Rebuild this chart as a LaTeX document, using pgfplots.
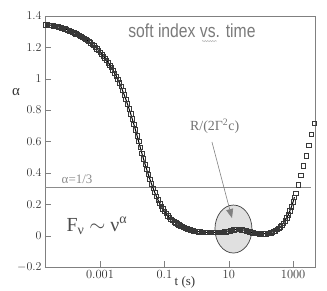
\documentclass[border=0pt]{standalone}
\usepackage{pgfplots}
\usepackage{pgfplotstable}
\pgfplotsset{compat=1.18}
\usepackage{fontspec}
\newfontfamily\tnr{Liberation Serif}
\newfontfamily\arialn[FakeStretch=0.83]{Liberation Sans}
\usetikzlibrary{arrows.meta,decorations.pathmorphing}
\pgfplotstableread{
u a
-4.70 1.345
-4.65 1.344
-4.60 1.343
-4.55 1.342
-4.50 1.340
-4.45 1.338
-4.40 1.336
-4.35 1.334
-4.30 1.331
-4.25 1.328
-4.20 1.325
-4.15 1.322
-4.10 1.318
-4.05 1.314
-4.00 1.310
-3.95 1.306
-3.90 1.302
-3.85 1.298
-3.80 1.293
-3.75 1.288
-3.70 1.283
-3.65 1.278
-3.60 1.272
-3.55 1.266
-3.50 1.260
-3.45 1.253
-3.40 1.246
-3.35 1.238
-3.30 1.230
-3.25 1.221
-3.20 1.212
-3.15 1.202
-3.10 1.192
-3.05 1.181
-3.00 1.170
-2.95 1.158
-2.90 1.145
-2.85 1.132
-2.80 1.118
-2.75 1.103
-2.70 1.088
-2.65 1.072
-2.60 1.055
-2.55 1.037
-2.50 1.018
-2.45 0.997
-2.40 0.975
-2.35 0.951
-2.30 0.925
-2.25 0.898
-2.20 0.870
-2.15 0.840
-2.10 0.810
-2.05 0.778
-2.00 0.745
-1.95 0.710
-1.90 0.675
-1.85 0.638
-1.80 0.600
-1.75 0.562
-1.70 0.525
-1.65 0.490
-1.60 0.455
-1.55 0.422
-1.50 0.390
-1.45 0.359
-1.40 0.330
-1.35 0.302
-1.30 0.275
-1.25 0.251
-1.20 0.228
-1.15 0.207
-1.10 0.188
-1.05 0.171
-1.00 0.155
-0.95 0.141
-0.90 0.128
-0.85 0.117
-0.80 0.106
-0.75 0.097
-0.70 0.089
-0.65 0.082
-0.60 0.075
-0.55 0.069
-0.50 0.063
-0.45 0.058
-0.40 0.053
-0.35 0.049
-0.30 0.045
-0.25 0.041
-0.20 0.038
-0.15 0.035
-0.10 0.032
-0.05 0.030
0.00 0.028
0.05 0.026
0.10 0.025
0.15 0.023
0.20 0.022
0.25 0.021
0.30 0.021
0.35 0.020
0.40 0.020
0.45 0.020
0.50 0.020
0.55 0.020
0.60 0.020
0.65 0.020
0.70 0.021
0.75 0.022
0.80 0.023
0.85 0.024
0.90 0.026
0.95 0.028
1.00 0.030
1.05 0.032
1.10 0.035
1.15 0.037
1.20 0.039
1.25 0.040
1.30 0.040
1.35 0.039
1.40 0.038
1.45 0.036
1.50 0.034
1.55 0.031
1.60 0.028
1.65 0.025
1.70 0.022
1.75 0.019
1.80 0.017
1.85 0.015
1.90 0.014
1.95 0.013
2.00 0.012
2.05 0.012
2.10 0.012
2.15 0.013
2.20 0.014
2.25 0.016
2.30 0.019
2.35 0.023
2.40 0.027
2.45 0.032
2.50 0.039
2.55 0.047
2.60 0.056
2.65 0.067
2.70 0.080
2.75 0.095
2.80 0.113
2.85 0.134
2.90 0.158
2.95 0.185
3.00 0.215
3.04 0.245
3.08 0.270
3.16 0.325
3.24 0.385
3.32 0.445
3.40 0.510
3.48 0.575
3.57 0.645
3.66 0.715
}\datatab
\begin{document}
\begin{tikzpicture}
\begin{axis}[name=ax, scale only axis, width=270bp, height=251bp,
  xmin=-4.71, xmax=3.68, ymin=-0.2, ymax=1.4,
  xtick={-3,-1,1,3}, xticklabels={0.001,0.1,10,1000},
  ytick={-0.2,0,0.2,0.4,0.6,0.8,1,1.2,1.4},
  axis line style={black!50},
  tick style={black!50},
  major tick length=6bp,
  tick align=inside, tick pos=left,
  clip=false,
  tick label style={font=\fontsize{12.5}{14}\selectfont, text=black!80},
]
\draw[black!75, line width=0.7pt, fill=black!12] (axis cs:1.146,0.042) ellipse [x radius=18.5bp, y radius=24bp];
\addplot[black!45, line width=0.8pt, no marks] coordinates {(-4.71,0.31) (3.57,0.31)};
\addplot[only marks, mark=square, mark size=2.2pt, mark options={draw=black!78, line width=0.45pt}] table[x=u, y=a] {\datatab};
\addplot[black, line width=1pt, no marks, restrict x to domain=-5:3.05] table[x=u, y=a] {\datatab};
\draw[black!50, line width=0.6pt, -{Triangle[length=9bp,width=7bp]}] (axis cs:0.478,0.597) -- (axis cs:1.10,0.112);
\node[anchor=base west, font=\arialn\fontsize{19}{22}\selectfont, text=black!52] at (axis cs:-2.23,1.266) {soft index vs. time};
\draw[black!30, line width=0.5pt, decorate, decoration={snake, segment length=2.5bp, amplitude=0.6bp}] (axis cs:0.17,1.24) -- (axis cs:0.63,1.24);
\node[anchor=base west, font=\tnr\fontsize{13}{15}\selectfont, text=black!45] at (axis cs:-4.30,0.335) {α=1/3};
\node[anchor=base west, font=\tnr\fontsize{20}{22}\selectfont, text=black!70] at (axis cs:-4.15,0.029) {F\textsubscript{ν} $\sim$ ν\textsuperscript{α}};
\node[anchor=base west, font=\tnr\fontsize{14}{16}\selectfont, text=black!55] at (axis cs:-0.31,0.667) {R/(2Γ\textsuperscript{2}c)};
\node[anchor=base, font=\tnr\fontsize{13}{15}\selectfont, text=black!80] at (axis cs:-0.36,-0.321) {t (s)};
\node[anchor=center, font=\tnr\fontsize{15}{17}\selectfont, text=black!80] at (axis cs:-5.61,0.915) {α};
\end{axis}
\pgfresetboundingbox
\path ([shift={(-45bp,-24bp)}]ax.south west) rectangle ([shift={(12bp,16bp)}]ax.north east);
\end{tikzpicture}
\end{document}
